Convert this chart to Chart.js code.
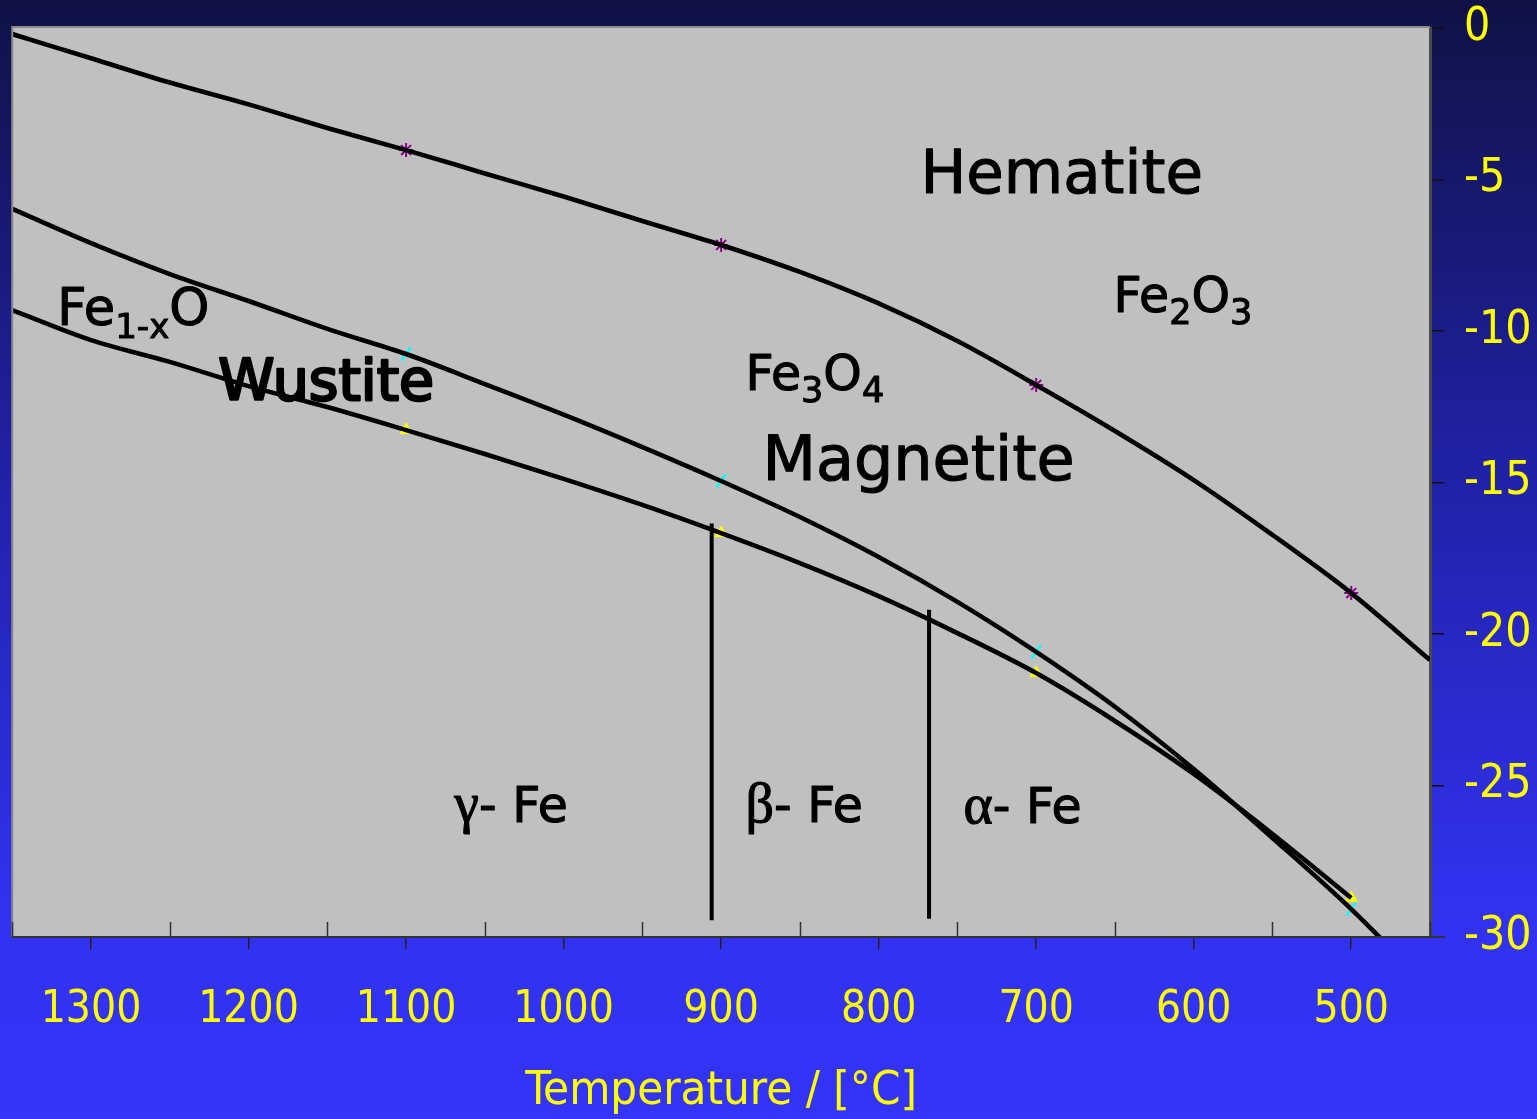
<!DOCTYPE html>
<html>
<head>
<meta charset="utf-8">
<title>Fe–O stability diagram</title>
<script src="https://cdn.jsdelivr.net/npm/chart.js@4.4.1/dist/chart.umd.min.js"></script>
<style>
  html, body { margin: 0; padding: 0; width: 1537px; height: 1119px; overflow: hidden; background: #1c1c78; }
  #wrap { position: relative; width: 1537px; height: 1119px; }
  canvas { display: block; }
</style>
</head>
<body>
<div id="wrap"><canvas id="chart" width="1537" height="1119"></canvas></div>
<script>
// Temperature grid (°C) and equilibrium log pO2 values for each phase boundary
const temperatures = [1350, 1300, 1250, 1200, 1150, 1100, 1050, 1000, 950, 900, 850, 800, 750, 700, 650, 600, 550, 500, 450];
const hematiteMagnetite = [-0.20, -1.00, -1.80, -2.52, -3.30, -4.03, -4.80, -5.56, -6.37, -7.16, -8.05, -9.09, -10.33, -11.78, -13.30, -14.92, -16.73, -18.65, -20.86];
const magnetiteWustite = [-5.97, -7.10, -8.12, -9.01, -9.93, -10.76, -11.75, -12.76, -13.83, -14.95, -16.14, -17.46, -18.94, -20.59, -22.40, -24.46, -26.73, -29.08, -31.70];
const wustiteIron = [-9.31, -10.30, -11.02, -11.82, -12.51, -13.27, -14.06, -14.88, -15.74, -16.67, -17.66, -18.75, -19.97, -21.29, -22.87, -24.62, -26.60, -28.71, null];
const markerTemperatures = [1100, 900, 700, 500];

// Iron allotrope transitions (°C) and the extent of their boundary lines
const transitionTemps = [906, 768];
const transitionTop = [-16.35, -19.20];
const transitionBottom = [-29.45, -29.40];

// Axis ticks
const xMajorTicks = [1300, 1200, 1100, 1000, 900, 800, 700, 600, 500];
const xMinorTicks = [1350, 1250, 1150, 1050, 950, 850, 750, 650, 550, 450];
const yTicks = [0, -5, -10, -15, -20, -25, -30];

const SANS = '"DejaVu Sans", sans-serif';
const SERIF = '"Liberation Serif", "DejaVu Serif", serif';
const NARROW = '"Liberation Sans Narrow", "DejaVu Sans Condensed", "Liberation Sans", sans-serif';

// Region names, anchored at data coordinates (left edge, baseline)
const regionLabels = [
  { t: 773.5, v: -5.45, runs: [{ text: 'Hematite', font: '61px ' + SANS }] },
  { t: 650.9, v: -9.37, runs: [
      { text: 'Fe', font: '49px ' + SANS }, { text: '2', font: '35px ' + SANS, dy: 12 },
      { text: 'O', font: '49px ' + SANS }, { text: '3', font: '35px ' + SANS, dy: 12 }] },
  { t: 884.6, v: -11.95, runs: [
      { text: 'Fe', font: '49px ' + SANS }, { text: '3', font: '35px ' + SANS, dy: 12 },
      { text: 'O', font: '49px ' + SANS }, { text: '4', font: '35px ' + SANS, dy: 12 }] },
  { t: 873.8, v: -14.92, runs: [{ text: 'Magnetite', font: '62px ' + SANS }] },
  { t: 1321.4, v: -9.80, runs: [
      { text: 'Fe', font: '51px ' + SANS }, { text: '1-x', font: '34px ' + SANS, dy: 13 },
      { text: 'O', font: '51px ' + SANS }] },
  { t: 1219.2, v: -12.28, weight: 2.6, runs: [{ text: 'Wustite', font: '57px ' + SANS }] },
  { t: 1069.4, v: -26.20, runs: [{ text: 'γ', font: '56px ' + SERIF }, { text: '- Fe', font: '49px ' + SANS }] },
  { t: 884.6, v: -26.20, runs: [{ text: 'β', font: '56px ' + SERIF }, { text: '- Fe', font: '49px ' + SANS }] },
  { t: 746.2, v: -26.25, runs: [{ text: 'α', font: '56px ' + SERIF }, { text: '- Fe', font: '49px ' + SANS }] }
];

function seriesPoints(values) {
  const pts = [];
  temperatures.forEach((t, i) => { if (values[i] !== null) pts.push({ x: t, y: values[i] }); });
  return pts;
}
function markerPoints(values) {
  return markerTemperatures.map(t => ({ x: t, y: values[temperatures.indexOf(t)] }));
}

const curveStyle = { borderColor: '#000', borderWidth: 4.6, pointRadius: 0, cubicInterpolationMode: 'monotone',
                     fill: false, order: 0, clip: 0 };
const ruleStyle = { borderColor: '#000', borderWidth: 4, pointRadius: 0, tension: 0, fill: false, order: 0, clip: 0 };

const datasets = [
  Object.assign({ label: 'Fe2O3 / Fe3O4', data: seriesPoints(hematiteMagnetite) }, curveStyle),
  Object.assign({ label: 'Fe3O4 / Fe1-xO', data: seriesPoints(magnetiteWustite) }, curveStyle),
  Object.assign({ label: 'Fe1-xO / Fe', data: seriesPoints(wustiteIron) }, curveStyle),
  { label: 'Fe2O3 / Fe3O4 points', data: markerPoints(hematiteMagnetite), showLine: false, order: 2,
    pointStyle: 'star', pointRadius: 7, borderColor: '#8a008a', pointBorderWidth: 2, backgroundColor: '#8a008a' },
  { label: 'Fe3O4 / Fe1-xO points', data: markerPoints(magnetiteWustite), showLine: false, order: 2,
    pointStyle: 'line', pointRadius: 8, pointRotation: -55, borderColor: '#00ffff', pointBorderWidth: 2.5, backgroundColor: '#00ffff' },
  { label: 'Fe1-xO / Fe points', data: markerPoints(wustiteIron), showLine: false, order: 2,
    pointStyle: 'triangle', pointRadius: 7, borderColor: '#ffff00', pointBorderWidth: 1, backgroundColor: '#ffff00' }
];
transitionTemps.forEach((t, i) => {
  datasets.push(Object.assign({ label: 'transition ' + t,
    data: [{ x: t, y: transitionTop[i] }, { x: t, y: transitionBottom[i] }] }, ruleStyle));
});

// Page background and grey plot field
const backgroundPlugin = {
  id: 'backdrop',
  beforeDraw(chart) {
    const { ctx, chartArea: a, width, height } = chart;
    ctx.save();
    const g = ctx.createLinearGradient(0, 0, 0, height);
    g.addColorStop(0, '#111146');
    g.addColorStop(0.4, '#2020a2');
    g.addColorStop(0.8, '#3131ee');
    g.addColorStop(1, '#3434fa');
    ctx.fillStyle = g;
    ctx.fillRect(0, 0, width, height);
    ctx.fillStyle = '#c0c0c0';
    ctx.fillRect(a.left, a.top, a.right - a.left, a.bottom - a.top);
    ctx.restore();
  }
};

// Plot frame, inward minor ticks and the axis line run-out
const framePlugin = {
  id: 'frame',
  afterDraw(chart) {
    const { ctx, chartArea: a, scales: { x } } = chart;
    ctx.save();
    ctx.lineWidth = 2;
    ctx.strokeStyle = '#8a8a8a';
    ctx.beginPath();
    ctx.moveTo(a.left, a.bottom); ctx.lineTo(a.left, a.top - 1); ctx.lineTo(a.right, a.top - 1);
    ctx.stroke();
    ctx.strokeStyle = '#333';
    ctx.lineWidth = 1.5;
    xMinorTicks.forEach(t => {
      const px = Math.round(x.getPixelForValue(t)) + 0.5;
      ctx.beginPath(); ctx.moveTo(px, a.bottom); ctx.lineTo(px, a.bottom - 15); ctx.stroke();
    });
    ctx.lineWidth = 2;
    ctx.beginPath(); ctx.moveTo(a.left, a.bottom); ctx.lineTo(a.right + 15, a.bottom); ctx.stroke();
    ctx.restore();
  }
};

// Region names with subscript runs
const labelPlugin = {
  id: 'regionLabels',
  afterDatasetsDraw(chart) {
    const { ctx, scales: { x, y } } = chart;
    ctx.save();
    ctx.fillStyle = '#000';
    ctx.strokeStyle = '#000';
    ctx.textAlign = 'left';
    ctx.textBaseline = 'alphabetic';
    ctx.lineJoin = 'round';
    regionLabels.forEach(lab => {
      let px = x.getPixelForValue(lab.t);
      const py = y.getPixelForValue(lab.v);
      lab.runs.forEach(r => {
        ctx.font = r.font;
        ctx.fillText(r.text, px, py + (r.dy || 0));
        ctx.lineWidth = lab.weight || 1.1;
        ctx.strokeText(r.text, px, py + (r.dy || 0));
        px += ctx.measureText(r.text).width;
      });
    });
    ctx.restore();
  }
};

new Chart(document.getElementById('chart'), {
  type: 'line',
  data: { datasets },
  options: {
    responsive: false,
    devicePixelRatio: 1,
    animation: false,
    events: [],
    layout: { padding: { left: 12, top: 28, right: 0, bottom: 0 } },
    plugins: { legend: { display: false }, tooltip: { enabled: false } },
    scales: {
      x: {
        type: 'linear', position: 'bottom', min: 450, max: 1350, reverse: true,
        afterBuildTicks: s => { s.ticks = xMajorTicks.map(v => ({ value: v })); },
        afterFit: s => { s.height = 182; },
        grid: { drawOnChartArea: false, drawTicks: true, tickLength: 12, color: '#222', lineWidth: 1.5 },
        border: { display: true, color: '#333', width: 2 },
        ticks: { color: '#ffff00', padding: 40, maxRotation: 0, autoSkip: false,
                 callback: v => String(v),
                 font: { family: NARROW, size: 44, lineHeight: 1 } },
        title: { display: true, text: 'Temperature / [°C]', color: '#ffff00',
                 font: { family: NARROW, size: 47, lineHeight: 1 }, padding: { top: 0, bottom: 4 } }
      },
      y: {
        type: 'linear', position: 'right', min: -30, max: 0,
        afterBuildTicks: s => { s.ticks = yTicks.map(v => ({ value: v })); },
        afterFit: s => { s.width = 107; },
        grid: { drawOnChartArea: false, drawTicks: true, tickLength: 14, color: '#111', lineWidth: 1.5 },
        border: { display: true, color: '#4a4a4a', width: 3 },
        ticks: { color: '#ffff00', padding: 20, crossAlign: 'near', callback: v => String(v),
                 font: { family: NARROW, size: 46, lineHeight: 0.2 } }
      }
    }
  },
  plugins: [backgroundPlugin, framePlugin, labelPlugin]
});
</script>
</body>
</html>
